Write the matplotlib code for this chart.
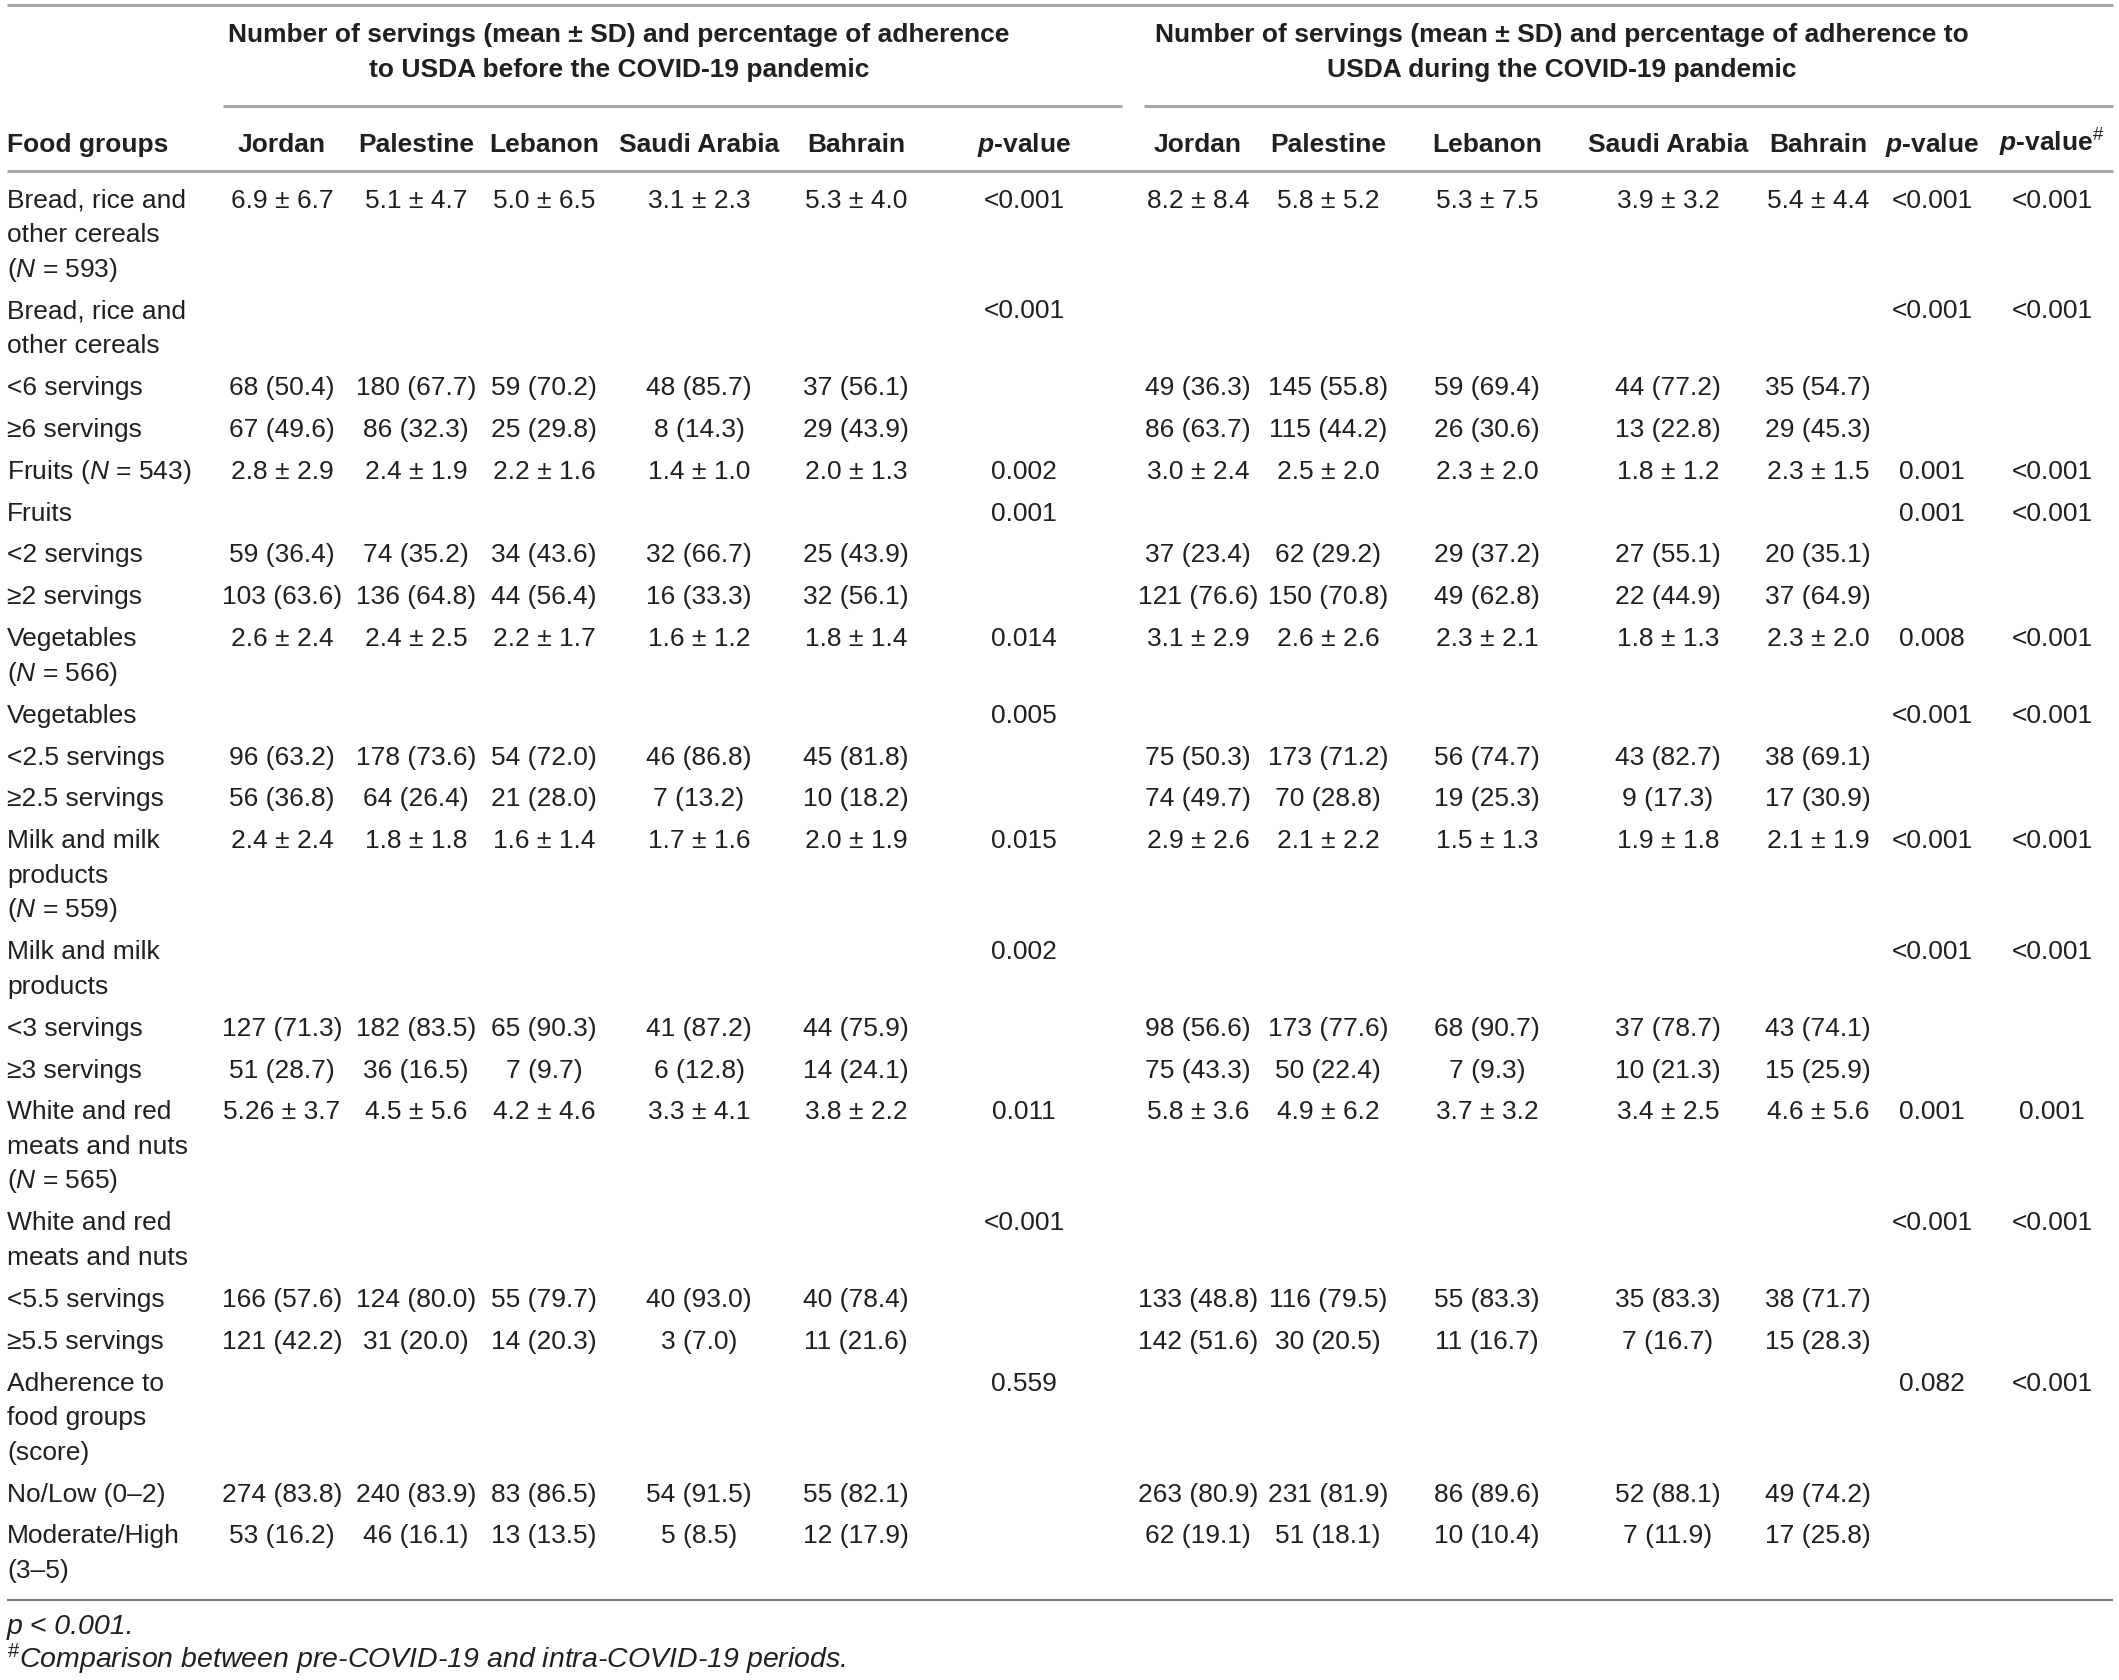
import matplotlib
matplotlib.use("Agg")
import matplotlib.pyplot as plt

plt.rcParams['font.family'] = ['Liberation Sans', 'DejaVu Sans']
plt.rcParams['mathtext.fontset'] = 'custom'
plt.rcParams['mathtext.rm'] = 'Liberation Sans'
plt.rcParams['mathtext.it'] = 'Liberation Sans:italic:bold'
plt.rcParams['mathtext.sf'] = 'Liberation Sans:italic'

# Table content
group_titles = [
    ["Number of servings (mean ± SD) and percentage of adherence",
     "to USDA before the COVID-19 pandemic"],
    ["Number of servings (mean ± SD) and percentage of adherence to",
     "USDA during the COVID-19 pandemic"],
]
countries = ["Jordan", "Palestine", "Lebanon", "Saudi Arabia", "Bahrain"]

row_labels = [
    ["Bread, rice and", "other cereals", "($\\mathsf{N}$ = 593)"],
    ["Bread, rice and", "other cereals"],
    ["<6 servings"],
    ["≥6 servings"],
    ["Fruits ($\\mathsf{N}$ = 543)"],
    ["Fruits"],
    ["<2 servings"],
    ["≥2 servings"],
    ["Vegetables", "($\\mathsf{N}$ = 566)"],
    ["Vegetables"],
    ["<2.5 servings"],
    ["≥2.5 servings"],
    ["Milk and milk", "products", "($\\mathsf{N}$ = 559)"],
    ["Milk and milk", "products"],
    ["<3 servings"],
    ["≥3 servings"],
    ["White and red", "meats and nuts", "($\\mathsf{N}$ = 565)"],
    ["White and red", "meats and nuts"],
    ["<5.5 servings"],
    ["≥5.5 servings"],
    ["Adherence to", "food groups", "(score)"],
    ["No/Low (0–2)"],
    ["Moderate/High", "(3–5)"],
]

jordan_pre = ["6.9 ± 6.7", "", "68 (50.4)", "67 (49.6)", "2.8 ± 2.9", "", "59 (36.4)", "103 (63.6)",
              "2.6 ± 2.4", "", "96 (63.2)", "56 (36.8)", "2.4 ± 2.4", "", "127 (71.3)", "51 (28.7)",
              "5.26 ± 3.7", "", "166 (57.6)", "121 (42.2)", "", "274 (83.8)", "53 (16.2)"]
palestine_pre = ["5.1 ± 4.7", "", "180 (67.7)", "86 (32.3)", "2.4 ± 1.9", "", "74 (35.2)", "136 (64.8)",
                 "2.4 ± 2.5", "", "178 (73.6)", "64 (26.4)", "1.8 ± 1.8", "", "182 (83.5)", "36 (16.5)",
                 "4.5 ± 5.6", "", "124 (80.0)", "31 (20.0)", "", "240 (83.9)", "46 (16.1)"]
lebanon_pre = ["5.0 ± 6.5", "", "59 (70.2)", "25 (29.8)", "2.2 ± 1.6", "", "34 (43.6)", "44 (56.4)",
               "2.2 ± 1.7", "", "54 (72.0)", "21 (28.0)", "1.6 ± 1.4", "", "65 (90.3)", "7 (9.7)",
               "4.2 ± 4.6", "", "55 (79.7)", "14 (20.3)", "", "83 (86.5)", "13 (13.5)"]
saudi_pre = ["3.1 ± 2.3", "", "48 (85.7)", "8 (14.3)", "1.4 ± 1.0", "", "32 (66.7)", "16 (33.3)",
             "1.6 ± 1.2", "", "46 (86.8)", "7 (13.2)", "1.7 ± 1.6", "", "41 (87.2)", "6 (12.8)",
             "3.3 ± 4.1", "", "40 (93.0)", "3 (7.0)", "", "54 (91.5)", "5 (8.5)"]
bahrain_pre = ["5.3 ± 4.0", "", "37 (56.1)", "29 (43.9)", "2.0 ± 1.3", "", "25 (43.9)", "32 (56.1)",
               "1.8 ± 1.4", "", "45 (81.8)", "10 (18.2)", "2.0 ± 1.9", "", "44 (75.9)", "14 (24.1)",
               "3.8 ± 2.2", "", "40 (78.4)", "11 (21.6)", "", "55 (82.1)", "12 (17.9)"]
p_pre = ["<0.001", "<0.001", "", "", "0.002", "0.001", "", "", "0.014", "0.005", "", "",
         "0.015", "0.002", "", "", "0.011", "<0.001", "", "", "0.559", "", ""]

jordan_during = ["8.2 ± 8.4", "", "49 (36.3)", "86 (63.7)", "3.0 ± 2.4", "", "37 (23.4)", "121 (76.6)",
                 "3.1 ± 2.9", "", "75 (50.3)", "74 (49.7)", "2.9 ± 2.6", "", "98 (56.6)", "75 (43.3)",
                 "5.8 ± 3.6", "", "133 (48.8)", "142 (51.6)", "", "263 (80.9)", "62 (19.1)"]
palestine_during = ["5.8 ± 5.2", "", "145 (55.8)", "115 (44.2)", "2.5 ± 2.0", "", "62 (29.2)", "150 (70.8)",
                    "2.6 ± 2.6", "", "173 (71.2)", "70 (28.8)", "2.1 ± 2.2", "", "173 (77.6)", "50 (22.4)",
                    "4.9 ± 6.2", "", "116 (79.5)", "30 (20.5)", "", "231 (81.9)", "51 (18.1)"]
lebanon_during = ["5.3 ± 7.5", "", "59 (69.4)", "26 (30.6)", "2.3 ± 2.0", "", "29 (37.2)", "49 (62.8)",
                  "2.3 ± 2.1", "", "56 (74.7)", "19 (25.3)", "1.5 ± 1.3", "", "68 (90.7)", "7 (9.3)",
                  "3.7 ± 3.2", "", "55 (83.3)", "11 (16.7)", "", "86 (89.6)", "10 (10.4)"]
saudi_during = ["3.9 ± 3.2", "", "44 (77.2)", "13 (22.8)", "1.8 ± 1.2", "", "27 (55.1)", "22 (44.9)",
                "1.8 ± 1.3", "", "43 (82.7)", "9 (17.3)", "1.9 ± 1.8", "", "37 (78.7)", "10 (21.3)",
                "3.4 ± 2.5", "", "35 (83.3)", "7 (16.7)", "", "52 (88.1)", "7 (11.9)"]
bahrain_during = ["5.4 ± 4.4", "", "35 (54.7)", "29 (45.3)", "2.3 ± 1.5", "", "20 (35.1)", "37 (64.9)",
                  "2.3 ± 2.0", "", "38 (69.1)", "17 (30.9)", "2.1 ± 1.9", "", "43 (74.1)", "15 (25.9)",
                  "4.6 ± 5.6", "", "38 (71.7)", "15 (28.3)", "", "49 (74.2)", "17 (25.8)"]
p_during = ["<0.001", "<0.001", "", "", "0.001", "0.001", "", "", "0.008", "<0.001", "", "",
            "<0.001", "<0.001", "", "", "0.001", "<0.001", "", "", "0.082", "", ""]
p_compare = ["<0.001", "<0.001", "", "", "<0.001", "<0.001", "", "", "<0.001", "<0.001", "", "",
             "<0.001", "<0.001", "", "", "0.001", "<0.001", "", "", "<0.001", "", ""]

footnotes = ["p < 0.001.", "$^{\\#}$Comparison between pre-COVID-19 and intra-COVID-19 periods."]

columns = [jordan_pre, palestine_pre, lebanon_pre, saudi_pre, bahrain_pre, p_pre,
           jordan_during, palestine_during, lebanon_during, saudi_during, bahrain_during,
           p_during, p_compare]
col_x = [282, 416, 544, 699, 856, 1024, 1198, 1328, 1487, 1668, 1818, 1932, 2052]
col_heads = countries + ["$\\mathit{p}$-value"] + countries + ["$\\mathit{p}$-value",
                                                               "$\\mathit{p}$-value$^{\\#}$"]

W, H = 2119, 1681
fig = plt.figure(figsize=(W / 100, H / 100), dpi=100)
ax = fig.add_axes([0, 0, 1, 1])
ax.set_xlim(0, W)
ax.set_ylim(H, 0)
ax.axis('off')

fs = 19
txt = '#231f20'
rule = '#a7a7a7'
base = 9  # baseline offset from line centre

# rules
ax.plot([7, 2113], [6, 6], color=rule, lw=2.2, solid_capstyle='butt')
ax.plot([223, 1122], [107, 107], color=rule, lw=2.2, solid_capstyle='butt')
ax.plot([1144, 2113], [107, 107], color=rule, lw=2.2, solid_capstyle='butt')
ax.plot([7, 2113], [172, 172], color=rule, lw=2.2, solid_capstyle='butt')
ax.plot([7, 2113], [1601, 1601], color='#7a7a7a', lw=1.6, solid_capstyle='butt')

# group titles
for gx, lines in zip([619, 1562], group_titles):
    for k, line in enumerate(lines):
        ax.text(gx, 33 + 35 * k + base, line, ha='center', va='baseline',
                fontsize=fs, fontweight='bold', color=txt)

# column headers
ax.text(7, 143 + base, "Food groups", ha='left', va='baseline',
        fontsize=fs, fontweight='bold', color=txt)
for x, head in zip(col_x, col_heads):
    ax.text(x, 143 + base, head, ha='center', va='baseline',
            fontsize=fs, fontweight='bold', color=txt)

# body rows
row_pitch, line_pitch = 41.9, 34.5
y = 198.6
for i, label in enumerate(row_labels):
    for k, line in enumerate(label):
        ax.text(7, y + line_pitch * k + base, line, ha='left', va='baseline',
                fontsize=fs, color=txt)
    for x, col in zip(col_x, columns):
        if col[i]:
            ax.text(x, y + base, col[i], ha='center', va='baseline',
                    fontsize=fs, color=txt)
    y += row_pitch + line_pitch * (len(label) - 1)

# footnotes
ax.text(7, 1625 + base, footnotes[0], ha='left', va='baseline',
        fontsize=20.5, fontstyle='italic', color=txt)
ax.text(7, 1659 + base, footnotes[1], ha='left', va='baseline',
        fontsize=20.5, fontstyle='italic', color=txt)

fig.savefig('out.png', dpi=100, facecolor='white')
